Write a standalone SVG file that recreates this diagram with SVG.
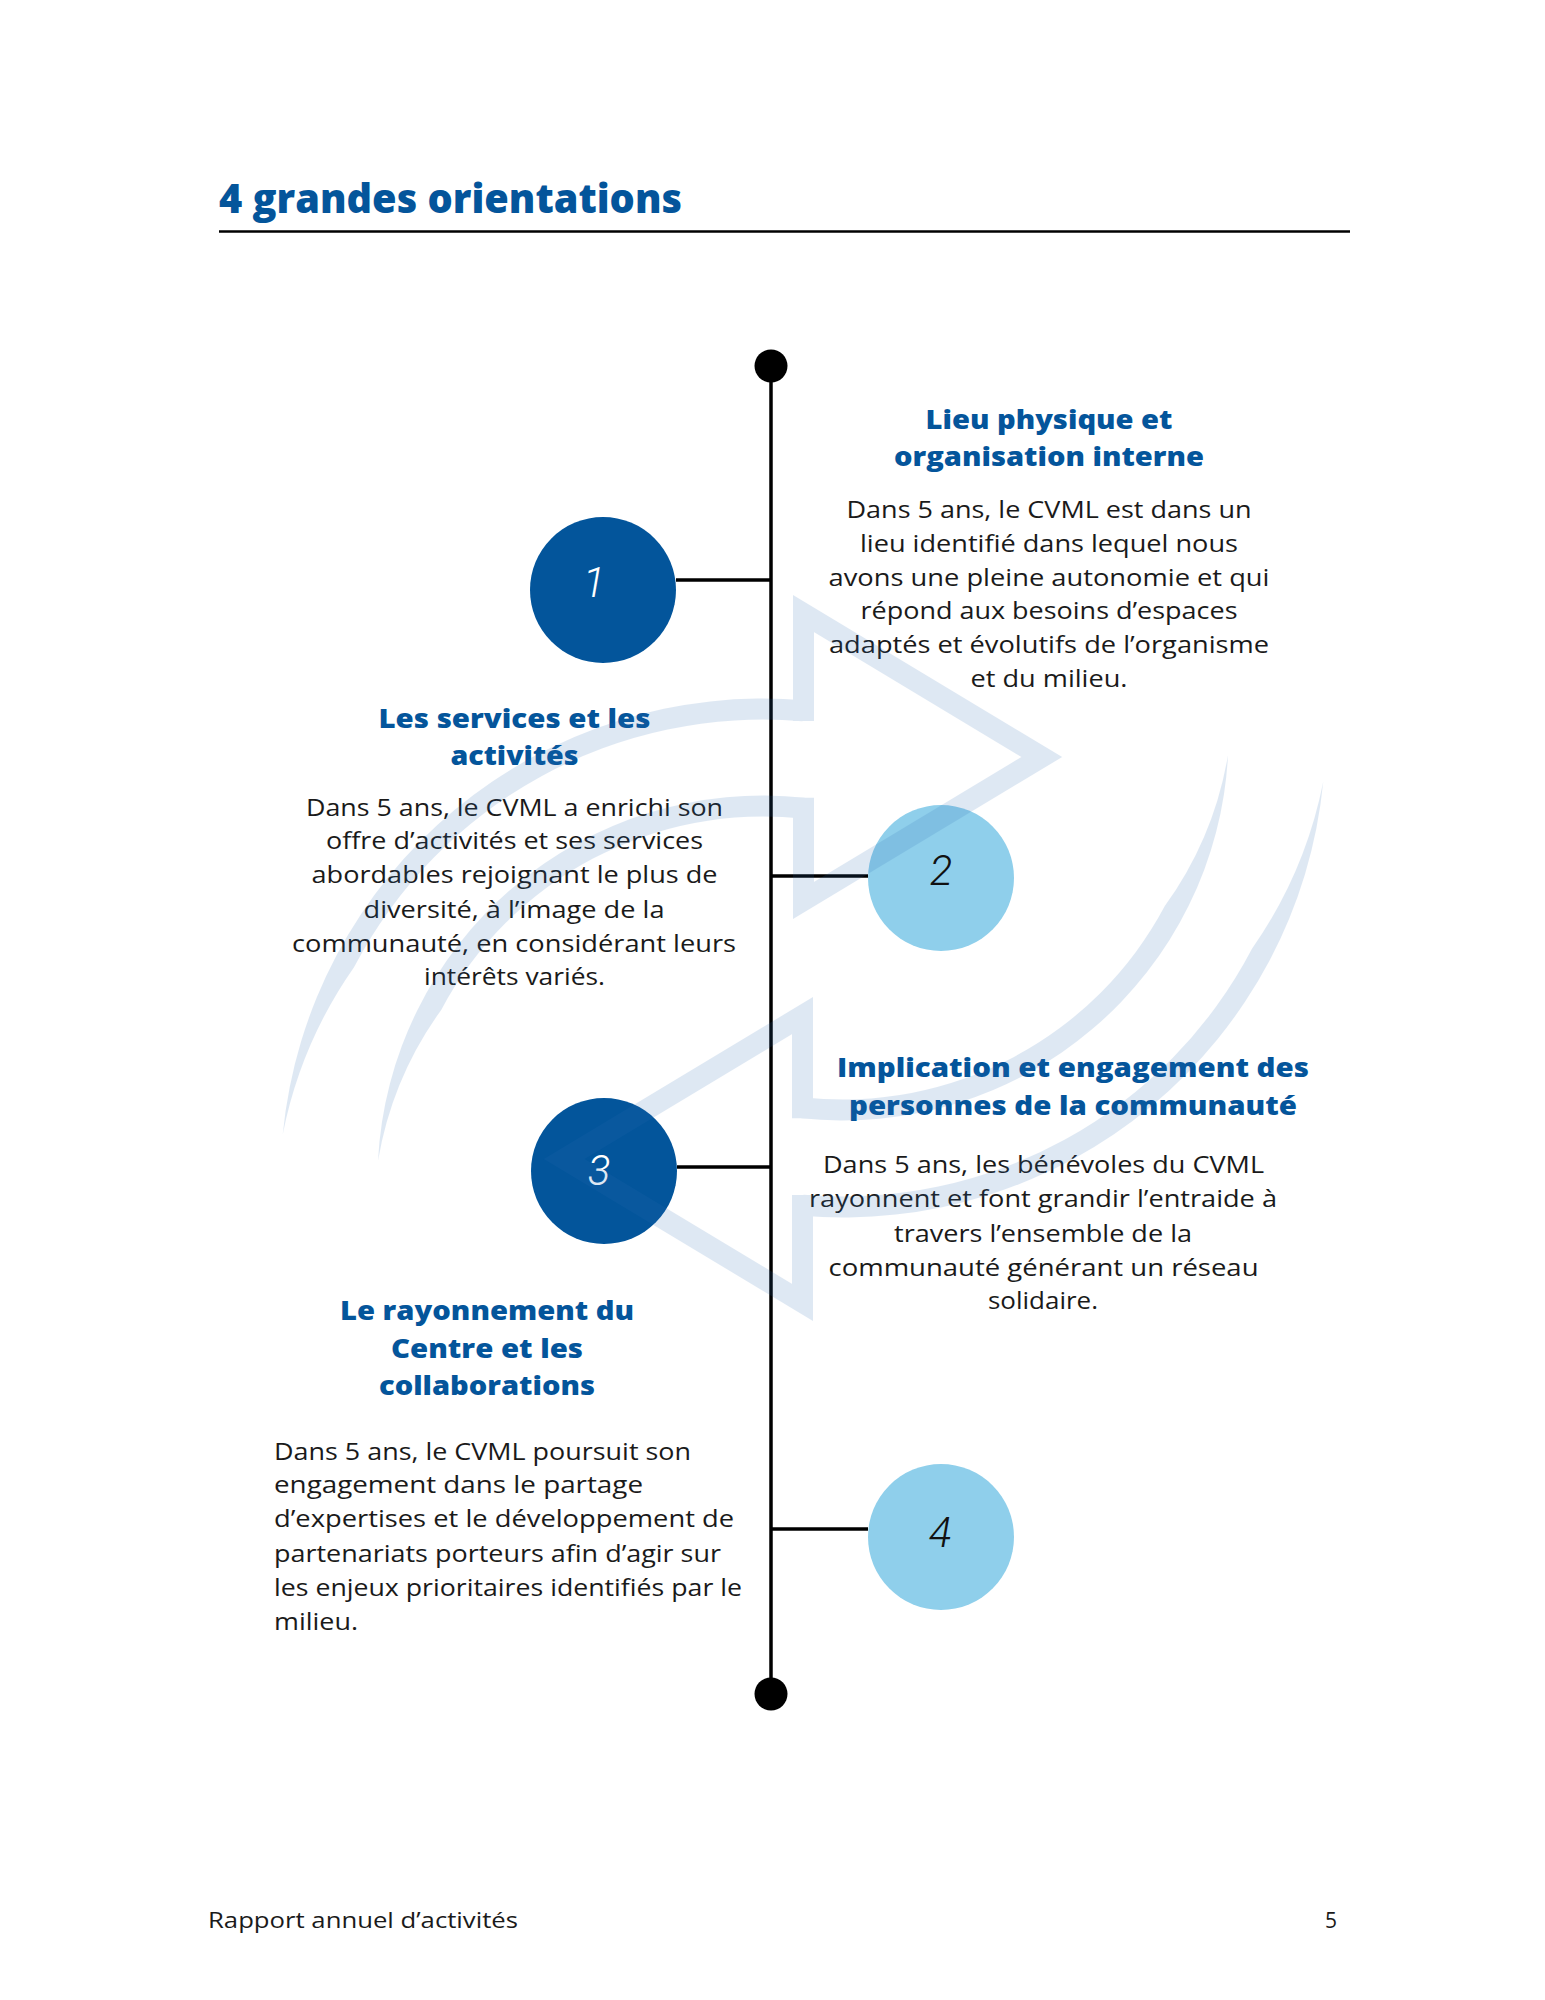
<svg xmlns="http://www.w3.org/2000/svg" xmlns:xlink="http://www.w3.org/1999/xlink" width="1545" height="2000" viewBox="0 0 1545 2000">
<style>
.title{font-family:'Open Sans',sans-serif;font-weight:800;font-size:40px;fill:#04559b}
.h{font-family:'Open Sans',sans-serif;font-weight:800;font-size:26px;fill:#04559b;text-anchor:middle}
.b{font-family:'Open Sans',sans-serif;font-size:24px;fill:#1a1a1a}
.c{text-anchor:middle}
.num{font-family:Roboto,sans-serif;font-style:italic;font-weight:300;font-size:42px;text-anchor:middle}
.foot{font-family:'Open Sans',sans-serif;font-size:21px;fill:#1a1a1a}
.dark{fill:#03559b}
.light{fill:#8fcfeb}
.ln{stroke:#000;stroke-width:3.5;fill:none}
</style>
<defs>
<g id="arrowUp">
<path d="M803.5 721 V613.6 L1041.8 757 L803.5 900.4 V797.7" fill="none" stroke="#2b6cb5" stroke-width="21" stroke-miterlimit="10"/>
<path d="M804.2 700.3 A482.5 482.5 0 0 0 282.8 1133.9 A440 440 0 0 1 354 967.2 A461.5 461.5 0 0 1 802.4 721.2 Z" fill="#2b6cb5"/>
<path d="M804.6 797.7 A385.5 385.5 0 0 0 378 1160.8 A360 360 0 0 1 441.2 1009.9 A364.5 364.5 0 0 1 802.4 818.6 Z" fill="#2b6cb5"/>
</g>
</defs>
<rect width="1545" height="2000" fill="#fff"/>

<g id="header">
<text class="title" x="219" y="213" textLength="463" lengthAdjust="spacingAndGlyphs">4 grandes orientations</text>
<line x1="219" y1="231.5" x2="1350" y2="231.5" stroke="#000" stroke-width="2.5"/>
</g>

<g id="connectors">
<line class="ln" x1="771" y1="366" x2="771" y2="1694"/>
<circle cx="771" cy="366" r="16.5" fill="#000"/>
<circle cx="771" cy="1694" r="16.5" fill="#000"/>
<line class="ln" x1="676" y1="580" x2="771" y2="580"/>
<line class="ln" x1="771" y1="876" x2="868" y2="876"/>
<line class="ln" x1="677" y1="1167" x2="771" y2="1167"/>
<line class="ln" x1="771" y1="1529" x2="868" y2="1529"/>
</g>

<g id="node1">
<circle class="dark" cx="603" cy="590" r="73"/>
<text class="num" x="594" y="597" fill="#fff">1</text>
<text class="h" x="1049" y="429" textLength="247" lengthAdjust="spacingAndGlyphs">Lieu physique et</text>
<text class="h" x="1049" y="466" textLength="310" lengthAdjust="spacingAndGlyphs">organisation interne</text>
<text class="b c" x="1049" y="518" textLength="405" lengthAdjust="spacingAndGlyphs">Dans 5 ans, le CVML est dans un</text>
<text class="b c" x="1049" y="552" textLength="378" lengthAdjust="spacingAndGlyphs">lieu identifié dans lequel nous</text>
<text class="b c" x="1049" y="586" textLength="441" lengthAdjust="spacingAndGlyphs">avons une pleine autonomie et qui</text>
<text class="b c" x="1049" y="619" textLength="377" lengthAdjust="spacingAndGlyphs">répond aux besoins d’espaces</text>
<text class="b c" x="1049" y="653" textLength="440" lengthAdjust="spacingAndGlyphs">adaptés et évolutifs de l’organisme</text>
<text class="b c" x="1049" y="687" textLength="157" lengthAdjust="spacingAndGlyphs">et du milieu.</text>
</g>

<g id="node2">
<circle class="light" cx="941" cy="878" r="73"/>
<text class="num" x="941" y="885" fill="#111">2</text>
<text class="h" x="514.5" y="728" textLength="272" lengthAdjust="spacingAndGlyphs">Les services et les</text>
<text class="h" x="514.5" y="765" textLength="128" lengthAdjust="spacingAndGlyphs">activités</text>
<text class="b c" x="514.5" y="816" textLength="417" lengthAdjust="spacingAndGlyphs">Dans 5 ans, le CVML a enrichi son</text>
<text class="b c" x="514.5" y="849" textLength="377" lengthAdjust="spacingAndGlyphs">offre d’activités et ses services</text>
<text class="b c" x="514.5" y="883" textLength="406" lengthAdjust="spacingAndGlyphs">abordables rejoignant le plus de</text>
<text class="b c" x="514" y="918" textLength="301" lengthAdjust="spacingAndGlyphs">diversité, à l’image de la</text>
<text class="b c" x="514" y="952" textLength="444" lengthAdjust="spacingAndGlyphs">communauté, en considérant leurs</text>
<text class="b c" x="514.5" y="985" textLength="181" lengthAdjust="spacingAndGlyphs">intérêts variés.</text>
</g>

<g id="node3">
<circle class="dark" cx="604" cy="1171" r="73"/>
<text class="num" x="599" y="1185" fill="#fff">3</text>
<text class="h" x="1073" y="1077" textLength="472" lengthAdjust="spacingAndGlyphs">Implication et engagement des</text>
<text class="h" x="1073" y="1115" textLength="448" lengthAdjust="spacingAndGlyphs">personnes de la communauté</text>
<text class="b c" x="1043.5" y="1173" textLength="441" lengthAdjust="spacingAndGlyphs">Dans 5 ans, les bénévoles du CVML</text>
<text class="b c" x="1043" y="1207" textLength="468" lengthAdjust="spacingAndGlyphs">rayonnent et font grandir l’entraide à</text>
<text class="b c" x="1043" y="1242" textLength="298" lengthAdjust="spacingAndGlyphs">travers l’ensemble de la</text>
<text class="b c" x="1043.5" y="1276" textLength="430" lengthAdjust="spacingAndGlyphs">communauté générant un réseau</text>
<text class="b c" x="1043" y="1309" textLength="110" lengthAdjust="spacingAndGlyphs">solidaire.</text>
</g>

<g id="node4">
<circle class="light" cx="941" cy="1537" r="73"/>
<text class="num" x="940" y="1547" fill="#111">4</text>
<text class="h" x="487" y="1320" textLength="294" lengthAdjust="spacingAndGlyphs">Le rayonnement du</text>
<text class="h" x="487" y="1358" textLength="192" lengthAdjust="spacingAndGlyphs">Centre et les</text>
<text class="h" x="487" y="1395" textLength="216" lengthAdjust="spacingAndGlyphs">collaborations</text>
<text class="b" x="274" y="1460" textLength="417" lengthAdjust="spacingAndGlyphs">Dans 5 ans, le CVML poursuit son</text>
<text class="b" x="274" y="1493" textLength="369" lengthAdjust="spacingAndGlyphs">engagement dans le partage</text>
<text class="b" x="274" y="1527" textLength="460" lengthAdjust="spacingAndGlyphs">d’expertises et le développement de</text>
<text class="b" x="274" y="1562" textLength="447" lengthAdjust="spacingAndGlyphs">partenariats porteurs afin d’agir sur</text>
<text class="b" x="274" y="1596" textLength="468" lengthAdjust="spacingAndGlyphs">les enjeux prioritaires identifiés par le</text>
<text class="b" x="274" y="1630" textLength="84" lengthAdjust="spacingAndGlyphs">milieu.</text>
</g>

<g id="watermark" opacity="0.15">
<use xlink:href="#arrowUp"/>
<use xlink:href="#arrowUp" transform="rotate(180 803 958)"/>
</g>

<g id="footer">
<text class="foot" x="208" y="1928" textLength="310" lengthAdjust="spacingAndGlyphs">Rapport annuel d’activités</text>
<text class="foot" x="1325" y="1928">5</text>
</g>
</svg>
